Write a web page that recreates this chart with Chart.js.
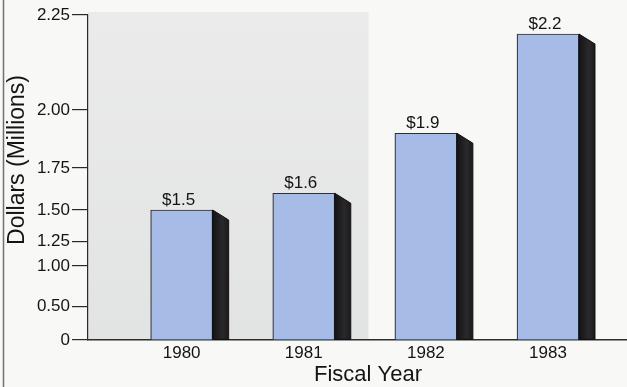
<!DOCTYPE html>
<html>
<head>
<meta charset="utf-8">
<script src="https://cdn.jsdelivr.net/npm/chart.js@4/dist/chart.umd.min.js"></script>
<style>
  html, body { margin: 0; padding: 0; background: #f8f8f6; }
  canvas { display: block; }
</style>
</head>
<body>
<canvas id="chart" width="627" height="387"></canvas>
<script>
// Budget by fiscal year, in millions of dollars
const years = ['1980', '1981', '1982', '1983'];
const budget = [1.5, 1.6, 1.9, 2.2];
const yTickValues = [0, 0.5, 1.0, 1.25, 1.5, 1.75, 2.0, 2.25];

// The value axis is stretched unevenly: share of the axis height at each tick
const yTickSpots = [0, 0.1025, 0.2277, 0.3025, 0.4, 0.529, 0.7077, 1];

const FONT = '"Liberation Sans", Arial, Helvetica, sans-serif';
const INK = '#141414';

// Linear scale with a piecewise mapping between the tick stops
class SteppedScale extends Chart.LinearScale {
  static id = 'stepped';
  static defaults = Chart.LinearScale.defaults;

  valueToDecimal(v) {
    const n = yTickValues.length;
    if (v <= yTickValues[0]) return yTickSpots[0];
    for (let i = 1; i < n; i++) {
      if (v <= yTickValues[i]) {
        const t = (v - yTickValues[i - 1]) / (yTickValues[i] - yTickValues[i - 1]);
        return yTickSpots[i - 1] + t * (yTickSpots[i] - yTickSpots[i - 1]);
      }
    }
    return yTickSpots[n - 1];
  }
  getPixelForValue(v) {
    if (v === null || v === undefined || isNaN(v)) return NaN;
    return this.getPixelForDecimal(this.valueToDecimal(v));
  }
  getValueForPixel(p) {
    const d = this.getDecimalForPixel(p);
    for (let i = 1; i < yTickSpots.length; i++) {
      if (d <= yTickSpots[i]) {
        const t = (d - yTickSpots[i - 1]) / (yTickSpots[i] - yTickSpots[i - 1]);
        return yTickValues[i - 1] + t * (yTickValues[i] - yTickValues[i - 1]);
      }
    }
    return yTickValues[yTickValues.length - 1];
  }
}
Chart.register(SteppedScale);

// Paper background and the shaded panel behind the first two years
const backdrop = {
  id: 'backdrop',
  beforeDraw(chart) {
    const { ctx, chartArea: a, scales: { x } } = chart;
    ctx.save();
    ctx.fillStyle = '#f8f8f6';
    ctx.fillRect(0, 0, chart.width, chart.height);
    const right = x.getPixelForValue(1.53);
    const g = ctx.createLinearGradient(0, a.top, 0, a.bottom);
    g.addColorStop(0, '#eaebea');
    g.addColorStop(1, '#e2e4e3');
    ctx.fillStyle = g;
    ctx.fillRect(a.left, a.top - 3, right - a.left, a.bottom - a.top + 3);
    ctx.restore();
  }
};

// Dark side faces for the block look, plus the dollar labels on top
const blocks = {
  id: 'blocks',
  afterDatasetsDraw(chart) {
    const { ctx } = chart;
    const meta = chart.getDatasetMeta(0);
    ctx.save();
    meta.data.forEach((bar, i) => {
      const { x, y, base, width } = bar.getProps(['x', 'y', 'base', 'width'], true);
      const r = x + width / 2;
      const depth = 16, drop = 10;
      ctx.beginPath();
      ctx.moveTo(r, y);
      ctx.lineTo(r + depth, y + drop);
      ctx.lineTo(r + depth, base);
      ctx.lineTo(r, base);
      ctx.closePath();
      const g = ctx.createLinearGradient(r, 0, r + depth, 0);
      g.addColorStop(0, '#141316');
      g.addColorStop(0.6, '#2a282b');
      g.addColorStop(1, '#1b1a1c');
      ctx.fillStyle = g;
      ctx.fill();
      ctx.strokeStyle = '#111';
      ctx.lineWidth = 1;
      ctx.stroke();

      ctx.fillStyle = INK;
      ctx.font = '17px ' + FONT;
      ctx.textAlign = 'center';
      ctx.textBaseline = 'alphabetic';
      ctx.fillText('$' + budget[i].toFixed(1), x - 3, y - 5);
    });
    ctx.restore();
  }
};

// Axis titles and the page edge rule
const framing = {
  id: 'framing',
  afterDraw(chart) {
    const { ctx } = chart;
    ctx.save();
    ctx.fillStyle = INK;
    ctx.textAlign = 'center';
    ctx.textBaseline = 'middle';
    ctx.font = '22px ' + FONT;
    ctx.fillText('Fiscal Year', 368, 375);
    ctx.translate(18, 160);
    ctx.rotate(-Math.PI / 2);
    ctx.font = '23px ' + FONT;
    ctx.fillText('Dollars (Millions)', 0, 0);
    ctx.restore();

    ctx.save();
    ctx.strokeStyle = '#707070';
    ctx.lineWidth = 1.5;
    ctx.beginPath();
    ctx.moveTo(3.5, 0);
    ctx.lineTo(3.5, chart.height);
    ctx.stroke();
    ctx.restore();
  }
};

new Chart(document.getElementById('chart'), {
  type: 'bar',
  data: {
    datasets: [{
      data: budget.map((v, i) => ({ x: i, y: v })),
      backgroundColor: '#a6bce7',
      borderColor: '#2b2f3d',
      borderWidth: 1.2,
      borderSkipped: 'bottom',
      barThickness: 62
    }]
  },
  options: {
    responsive: false,
    devicePixelRatio: 1,
    animation: false,
    layout: { padding: { top: 15, right: 0, bottom: 0, left: 0 } },
    plugins: { legend: { display: false }, tooltip: { enabled: false } },
    scales: {
      x: {
        type: 'linear',
        offset: false,
        min: -0.767,
        max: 3.647,
        afterBuildTicks: s => { s.ticks = years.map((_, i) => ({ value: i })); },
        afterFit: s => { s.height = 47; },
        grid: { display: false, drawTicks: false, offset: false },
        border: { display: true, color: '#2a2e2d', width: 1.5 },
        ticks: {
          autoSkip: false,
          maxRotation: 0,
          padding: 3,
          color: INK,
          font: { family: FONT, size: 17 },
          callback: v => years[v]
        }
      },
      y: {
        type: 'stepped',
        min: 0,
        max: 2.25,
        afterBuildTicks: s => { s.ticks = yTickValues.map(v => ({ value: v })); },
        afterFit: s => { s.width = 88; },
        grid: { display: true, drawOnChartArea: false, drawTicks: true, tickLength: 16, color: '#2a2a2a', lineWidth: 1.2 },
        border: { display: true, color: '#2a2a2a', width: 1.2 },
        ticks: {
          autoSkip: false,
          padding: 2,
          color: INK,
          font: { family: FONT, size: 17 },
          callback: v => (v === 0 ? '0' : v.toFixed(2))
        }
      }
    }
  },
  plugins: [backdrop, blocks, framing]
});
</script>
</body>
</html>
